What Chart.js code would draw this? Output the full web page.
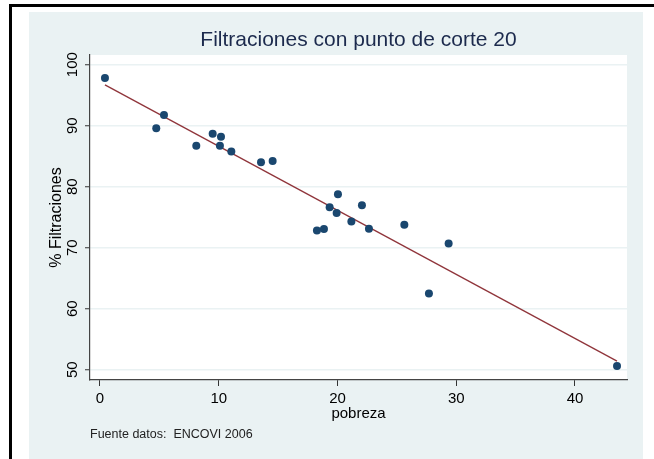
<!DOCTYPE html>
<html>
<head>
<meta charset="utf-8">
<script src="https://cdn.jsdelivr.net/npm/chart.js@4.4.1/dist/chart.umd.min.js"></script>
<style>
  html, body { margin: 0; padding: 0; background: #fff; }
  canvas { display: block; }
</style>
</head>
<body>
<canvas id="graph" width="654" height="459"></canvas>
<script>
// % poverty per department (x) and % filtraciones (y)
const pobreza = [0.42, 4.74, 5.39, 8.11, 9.49, 10.19, 10.10, 11.06, 13.56, 14.54, 18.27,
                 18.86, 19.34, 19.93, 20.04, 21.17, 22.06, 22.65, 25.63, 27.70, 29.36, 43.54];
const filtraciones = [97.8, 89.6, 91.75, 86.7, 88.7, 88.2, 86.7, 85.75, 84.0, 84.2, 72.8,
                      73.05, 76.65, 75.7, 78.75, 74.3, 76.95, 73.1, 73.75, 62.5, 70.7, 50.6];

// fitted line end points
const ajusteX = [0.42, 43.54];
const ajusteY = [96.7, 51.4];

const xTicks = [0, 10, 20, 30, 40];
const yTicks = [50, 60, 70, 80, 90, 100];

const panelBg = '#eaf2f3';

const fondo = {
    id: 'fondo',
    beforeDraw(chart) {
        const ctx = chart.ctx;
        const a = chart.chartArea;
        ctx.save();
        ctx.fillStyle = '#fff';
        ctx.fillRect(0, 0, chart.width, chart.height);
        ctx.fillStyle = panelBg;
        ctx.fillRect(29, 12, 614, 447);
        ctx.fillStyle = '#000';
        ctx.fillRect(9, 4, 645, 3);
        ctx.fillRect(9, 4, 3, 455);
        ctx.fillStyle = '#fff';
        ctx.fillRect(a.left, a.top, a.right - a.left, a.bottom - a.top);
        ctx.restore();
    },
    afterDraw(chart) {
        const ctx = chart.ctx;
        ctx.save();
        ctx.fillStyle = '#222';
        ctx.font = '12.5px "Liberation Sans", Arial, sans-serif';
        ctx.textBaseline = 'middle';
        ctx.fillText('Fuente datos:  ENCOVI 2006', 90, 435);
        ctx.restore();
    }
};

const font = '"Liberation Sans", Arial, sans-serif';

new Chart('graph', {
    type: 'scatter',
    data: {
        datasets: [{
            data: pobreza.map((x, i) => ({ x: x, y: filtraciones[i] })),
            backgroundColor: '#1a476f',
            borderWidth: 0,
            pointRadius: 4,
            order: 1
        }, {
            type: 'line',
            data: ajusteX.map((x, i) => ({ x: x, y: ajusteY[i] })),
            borderColor: '#90353b',
            borderWidth: 1.3,
            pointRadius: 0,
            fill: false,
            order: 2
        }]
    },
    options: {
        responsive: false,
        animation: false,
        layout: { padding: { left: 0, right: 27, top: 12, bottom: 0 } },
        plugins: {
            legend: { display: false },
            tooltip: { enabled: false },
            title: {
                display: true,
                fullSize: false,
                text: 'Filtraciones con punto de corte 20',
                color: '#1c2a4d',
                font: { family: font, size: 21, weight: 'normal' },
                padding: { top: 15.4, bottom: 2.4 }
            }
        },
        scales: {
            x: {
                type: 'linear',
                min: -0.84,
                max: 44.38,
                afterBuildTicks: s => { s.ticks = xTicks.map(v => ({ value: v })); },
                afterFit: s => { s.height = 79; },
                grid: { drawOnChartArea: false, tickColor: '#333', tickLength: 6, tickWidth: 1 },
                border: { color: '#444', width: 1.2 },
                ticks: { color: '#000', padding: 4, maxRotation: 0, font: { family: font, size: 15 } },
                title: {
                    display: true,
                    text: 'pobreza',
                    color: '#000',
                    font: { family: font, size: 15 },
                    padding: { top: 0, bottom: 36 }
                }
            },
            y: {
                type: 'linear',
                min: 48.31,
                max: 101.59,
                afterBuildTicks: s => { s.ticks = yTicks.map(v => ({ value: v })); },
                afterFit: s => { s.width = 90; },
                grid: { color: panelBg, lineWidth: 1.5, tickColor: '#333', tickLength: 5, tickWidth: 1 },
                border: { color: '#444', width: 1.2 },
                ticks: {
                    color: '#000',
                    padding: 0,
                    minRotation: 90,
                    maxRotation: 90,
                    crossAlign: 'center',
                    font: { family: font, size: 15 }
                },
                title: {
                    display: true,
                    text: '% Filtraciones',
                    color: '#000',
                    font: { family: font, size: 16 },
                    padding: { top: 47, bottom: 0 }
                }
            }
        }
    },
    plugins: [fondo]
});
</script>
</body>
</html>
